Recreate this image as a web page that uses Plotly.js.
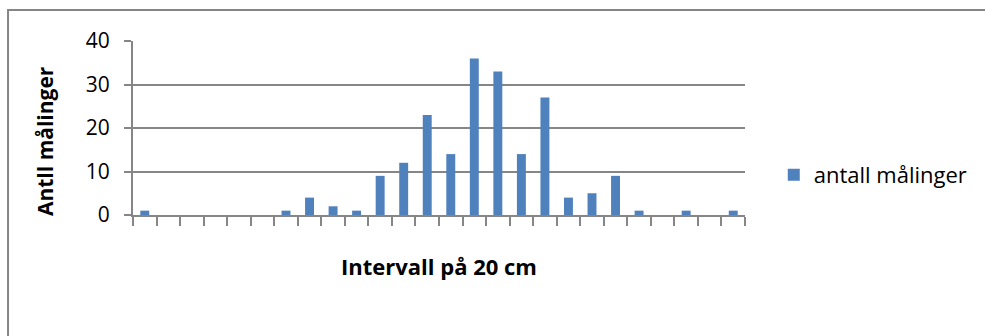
<!DOCTYPE html>
<html>
<head>
<meta charset="utf-8">
<script src="https://cdn.plot.ly/plotly-3.0.1.min.js"></script>
<style>
  html, body { margin: 0; padding: 0; background: #ffffff; }
  #chart { width: 985px; height: 336px; }
</style>
</head>
<body>
<div id="chart"></div>
<script>
// Intervals of 20 cm (unlabelled on the axis) and number of measurements in each
const intervals = ["1","2","3","4","5","6","7","8","9","10","11","12","13",
                   "14","15","16","17","18","19","20","21","22","23","24","25","26"];
const counts = [1, 0, 0, 0, 0, 0, 1, 4, 2, 1, 9, 12, 23, 14, 36, 33, 14, 27, 4, 5, 9, 1, 0, 1, 0, 1];
const seriesName = "antall målinger";
const yTicks = [0, 10, 20, 30, 40];

const gray = "#868686";
const font = "Open Sans, Noto Sans, sans-serif";

const trace = {
  type: "bar",
  x: intervals,
  y: counts,
  name: seriesName,
  marker: { color: "#4F81BD" },
  showlegend: true
};

const layout = {
  width: 985,
  height: 336,
  margin: { l: 133, r: 240, t: 41, b: 121, pad: 0 },
  paper_bgcolor: "#ffffff",
  plot_bgcolor: "#ffffff",
  bargap: 0.62,
  font: { family: font, color: "#000000", size: 21 },
  xaxis: {
    type: "category",
    categoryorder: "array",
    categoryarray: intervals,
    showticklabels: false,
    tickson: "boundaries",
    ticks: "outside",
    ticklen: 9,
    tickwidth: 2,
    tickcolor: gray,
    showgrid: false,
    showline: true,
    linecolor: gray,
    linewidth: 2,
    zeroline: false,
    fixedrange: true
  },
  yaxis: {
    range: [0, 40],
    tickvals: yTicks,
    ticktext: yTicks.map(String),
    ticks: "outside",
    ticklen: 7,
    tickwidth: 2,
    tickcolor: gray,
    ticklabelstandoff: 10,
    tickfont: { size: 21, family: font },
    showgrid: true,
    gridcolor: gray,
    gridwidth: 2,
    showline: true,
    linecolor: gray,
    linewidth: 2,
    zeroline: false,
    fixedrange: true
  },
  legend: {
    x: 1.047, xanchor: "left",
    y: 0.23, yanchor: "middle",
    font: { size: 22, family: font },
    itemwidth: 30,
    bgcolor: "rgba(0,0,0,0)"
  },
  annotations: [
    {
      text: "<b>Intervall på 20 cm</b>",
      xref: "paper", yref: "paper",
      x: 0.5, y: -0.295,
      xanchor: "center", yanchor: "middle",
      showarrow: false,
      font: { size: 22, family: font }
    },
    {
      text: "<b>Antll målinger</b>",
      xref: "paper", yref: "paper",
      x: -0.1438, y: 0.425,
      xanchor: "center", yanchor: "middle",
      textangle: -90,
      showarrow: false,
      font: { size: 21, family: font }
    }
  ],
  shapes: [
    {
      // chart frame: left and top edges (the rest lies beyond the page)
      type: "path",
      xref: "paper", yref: "paper",
      path: "M -0.2042,-0.9 L -0.2042,1.178 L 1.6,1.178",
      line: { color: gray, width: 2 },
      layer: "below"
    }
  ]
};

Plotly.newPlot("chart", [trace], layout, { displayModeBar: false, staticPlot: true });
</script>
</body>
</html>
